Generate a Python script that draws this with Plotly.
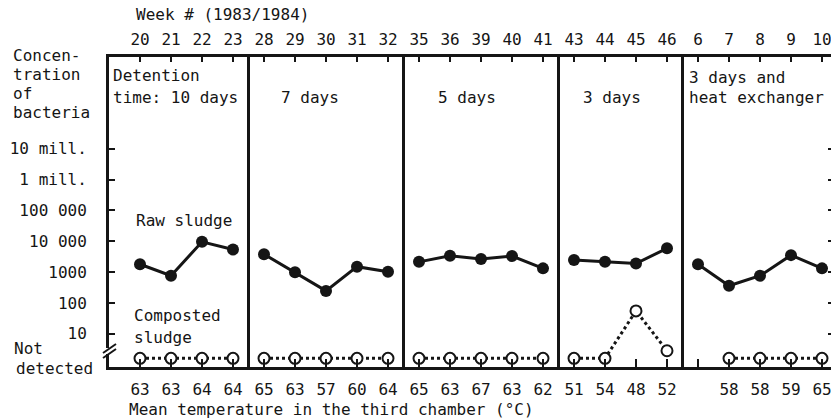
import numpy as np
import plotly.graph_objects as go

# ---------------- data ----------------
weeks = ["20", "21", "22", "23", "28", "29", "30", "31", "32", "35", "36", "39", "40", "41",
         "43", "44", "45", "46", "6", "7", "8", "9", "10"]
temps = ["63", "63", "64", "64", "65", "63", "57", "60", "64", "65", "63", "67", "63", "62",
         "51", "54", "48", "52", "", "58", "58", "59", "65"]
panel_sizes = [4, 5, 5, 4, 5]
raw_sludge = [1800, 760, 9600, 5400,
              3800, 980, 245, 1500, 1020,
              2150, 3380, 2640, 3300, 1320,
              2450, 2150, 1900, 5900,
              1800, 360, 760, 3550, 1320]
# 0 = not detected, None = no sample
composted = [0, 0, 0, 0,
             0, 0, 0, 0, 0,
             0, 0, 0, 0, 0,
             0, 0, 55, 2.8,
             None, 0, 0, 0, 0]
ytick_vals = [10, 100, 1000, 10000, 100000, 1000000, 10000000]
ytick_text = ["10", "100", "1000", "10 000", "100 000", "1 mill.", "10 mill."]
ND_LEVEL = 10 ** 0.2

FONT = "DejaVu Sans Mono"
FS = 16
INK = "#151515"

W, H = 831, 419
L, R, T, B = 109, 0, 57, 52
PW, PH = W - L - R, H - T - B


def px(x, y):
    return (x - L) / PW, (H - B - y) / PH


fig = go.Figure()

idx = np.arange(len(weeks))
start = 0
for n in panel_sizes:
    sl = slice(start, start + n)
    xs = idx[sl]
    fig.add_trace(go.Scatter(
        x=xs, y=raw_sludge[sl], mode="lines+markers",
        line=dict(color=INK, width=3),
        marker=dict(size=12, color=INK),
        showlegend=False, hoverinfo="skip"))
    cy = [ND_LEVEL if v == 0 else v for v in composted[sl]]
    pts = [(a, b) for a, b in zip(xs, cy) if b is not None]
    fig.add_trace(go.Scatter(
        x=[p[0] for p in pts], y=[p[1] for p in pts], mode="lines+markers",
        line=dict(color=INK, width=3, dash="3px,3px"),
        marker=dict(size=11, color="white", line=dict(color=INK, width=2)),
        showlegend=False, hoverinfo="skip"))
    start += n

xr = [-1, -1 + PW / 31.0]
fig.update_layout(
    width=W, height=H, margin=dict(l=L, r=R, t=T, b=B),
    paper_bgcolor="white", plot_bgcolor="white",
    font=dict(family=FONT, size=FS, color=INK),
    xaxis=dict(range=xr, showgrid=False, zeroline=False,
               showline=True, linewidth=3, linecolor=INK,
               tickmode="array", tickvals=list(idx), ticktext=temps,
               ticks="inside", ticklen=8, tickwidth=2, tickcolor=INK,
               ticklabelstandoff=6, ticklabeloverflow="allow",
               tickfont=dict(family=FONT, size=FS, color=INK)),
    xaxis2=dict(range=xr, overlaying="x", side="top", showgrid=False, zeroline=False,
                showline=True, linewidth=3, linecolor=INK,
                tickmode="array", tickvals=list(idx), ticktext=weeks,
                ticks="inside", ticklen=5, tickwidth=2, tickcolor=INK,
                ticklabelstandoff=3, ticklabeloverflow="allow",
                tickfont=dict(family=FONT, size=FS, color=INK)),
    yaxis=dict(type="log", range=[-0.08, 9.98], showgrid=False, zeroline=False,
               showline=True, linewidth=3, linecolor=INK,
               tickmode="array", tickvals=ytick_vals, ticktext=ytick_text,
               ticks="inside", ticklen=6, tickwidth=2, tickcolor=INK,
               ticklabelstandoff=16,
               tickfont=dict(family=FONT, size=FS, color=INK)),
    yaxis2=dict(type="log", range=[-0.08, 9.98], overlaying="y", side="right",
                showgrid=False, zeroline=False, showline=False,
                tickmode="array", tickvals=ytick_vals, showticklabels=False,
                ticks="inside", ticklen=3, tickwidth=2, tickcolor=INK),
)
# invisible traces to activate the top and right axes
fig.add_trace(go.Scatter(x=[0], y=[1], xaxis="x2", mode="markers",
                         marker=dict(opacity=0), showlegend=False, hoverinfo="skip"))
fig.add_trace(go.Scatter(x=[0], y=[1], yaxis="y2", mode="markers",
                         marker=dict(opacity=0), showlegend=False, hoverinfo="skip"))

# panel dividers
b = 0
for n in panel_sizes[:-1]:
    b += n
    fig.add_shape(type="line", xref="x", yref="paper", x0=b - 0.5, x1=b - 0.5, y0=0, y1=1,
                  line=dict(color=INK, width=3))

# axis break
fig.add_shape(type="rect", xref="paper", yref="paper",
              x0=px(106, 0)[0], x1=px(113, 0)[0], y0=px(0, 354)[1], y1=px(0, 348)[1],
              fillcolor="white", line=dict(width=0), layer="above")
for dy in (0, 5):
    a = px(103, 353 + dy)
    c = px(116, 344 + dy)
    fig.add_shape(type="line", xref="paper", yref="paper",
                  x0=a[0], y0=a[1], x1=c[0], y1=c[1],
                  line=dict(color=INK, width=2), layer="above")

texts = [
    ("Week # (1983/1984)", 135, 15),
    ("Concen-", 12, 55), ("tration", 12, 74), ("of", 12, 93.5), ("bacteria", 12, 112.5),
    ("Detention", 112, 75), ("time: 10 days", 112, 98),
    ("7 days", 280, 98), ("5 days", 437, 98), ("3 days", 582, 98),
    ("3 days and", 688, 77), ("heat exchanger", 688, 98),
    ("Raw sludge", 135, 220),
    ("Composted", 133, 315), ("sludge", 133, 337),
    ("Not", 13, 348), ("detected", 15, 368),
    ("Mean temperature in the third chamber (°C)", 128, 409),
]
for s, x, y in texts:
    xp, yp = px(x, y)
    fig.add_annotation(text=s, x=xp, y=yp, xref="paper", yref="paper",
                       xanchor="left", yanchor="middle", showarrow=False, borderpad=0,
                       font=dict(family=FONT, size=FS, color=INK))

fig.write_html("out.html")
